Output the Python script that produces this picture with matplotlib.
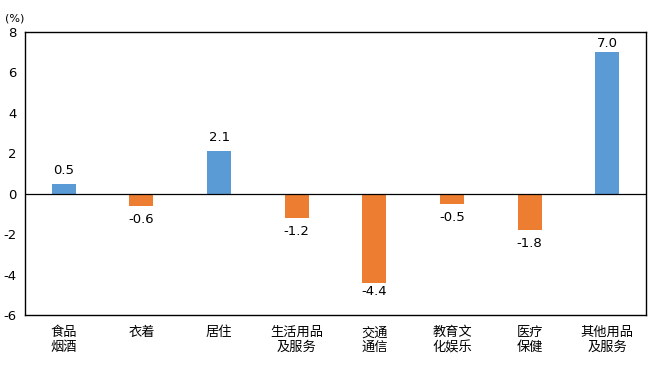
import matplotlib
matplotlib.use("Agg")
import matplotlib.pyplot as plt

plt.rcParams['font.family'] = ['Noto Sans CJK SC', 'DejaVu Sans']

categories = ["食品\n烟酒", "衣着", "居住", "生活用品\n及服务", "交通\n通信", "教育文\n化娱乐", "医疗\n保健", "其他用品\n及服务"]
values = [0.5, -0.6, 2.1, -1.2, -4.4, -0.5, -1.8, 7.0]
yticks = [-6, -4, -2, 0, 2, 4, 6, 8]

fig = plt.figure(figsize=(6.56, 3.72), dpi=100)
ax = fig.add_axes([0.038, 0.153, 0.947, 0.761])

colors = ["#5B9BD5" if v >= 0 else "#ED7D31" for v in values]
x = list(range(len(values)))
ax.bar(x, values, width=0.31, color=colors, zorder=2)
ax.axhline(0, color="black", linewidth=0.9, zorder=3)

for xi, v in zip(x, values):
    off = 0.35 if abs(v) < 4 else 0.12
    if v >= 0:
        ax.text(xi, v + off, f"{v:.1f}", ha="center", va="bottom", fontsize=9.5, family="DejaVu Sans")
    else:
        ax.text(xi, v - off, f"{v:.1f}", ha="center", va="top", fontsize=9.5, family="DejaVu Sans")

ax.set_xlim(-0.5, len(values) - 0.5)
ax.set_ylim(-6, 8)
ax.set_yticks(yticks)
ax.set_yticklabels([str(t) for t in yticks], family="DejaVu Sans", fontsize=9.5)
ax.set_xticks(x)
ax.set_xticklabels(categories, fontsize=9.5, linespacing=1.2)
ax.tick_params(axis="both", length=0, pad=6)
ax.tick_params(axis="x", pad=8)
for s in ax.spines.values():
    s.set_linewidth(1.0)
    s.set_color("black")

fig.text(0.008, 0.965, "(%)", fontsize=8, family="DejaVu Sans", va="top", ha="left")

fig.savefig("out.png", dpi=100)
